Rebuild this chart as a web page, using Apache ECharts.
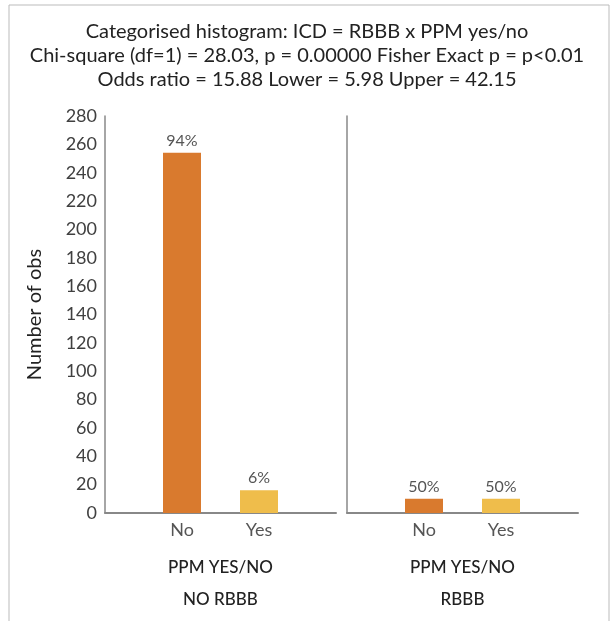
<!DOCTYPE html>
<html><head><meta charset="utf-8">
<script src="https://cdn.jsdelivr.net/npm/echarts@6/dist/echarts.min.js"></script>
<style>html,body{margin:0;padding:0;background:#fff}#c{width:614px;height:621px}</style>
</head><body><div id="c"></div>
<script>
const titleLines = ['Categorised histogram: ICD = RBBB x PPM yes/no',
  'Chi-square (df=1) = 28.03, p = 0.00000 Fisher Exact p = p<0.01',
  'Odds ratio = 15.88 Lower = 5.98 Upper = 42.15'];
const categories = ['', 'No', 'Yes', ''];
const noRbbb = [null, 254, 16, null];
const rbbb = [null, 10, 10, null];
const groupNames = ['PPM YES/NO\nNO RBBB', 'PPM YES/NO\nRBBB'];
const yTicks = {min: 0, max: 280, interval: 20};
const colors = ['#D97A2E', '#EFBD4B'];
const yTitle = 'Number of obs';

const FONT = 'Lato';
function pct(arr) {
  const tot = arr.reduce((a, b) => a + (b || 0), 0);
  return p => Math.round(p.value / tot * 100) + '%';
}
function series(arr, idx) {
  return {
    type: 'bar', xAxisIndex: idx, yAxisIndex: idx, barWidth: 38,
    data: arr.map((v, i) => v == null ? null : {value: v, itemStyle: {color: colors[i - 1]}}),
    label: {show: true, position: 'top', distance: 4, formatter: pct(arr),
      color: '#555', fontSize: 16, fontFamily: FONT}
  };
}
function xAx(idx) {
  return {
    type: 'category', gridIndex: idx, data: categories, boundaryGap: false,
    axisLine: {lineStyle: {color: '#888', width: 2}}, axisTick: {show: false},
    axisLabel: {color: '#555', fontSize: 18, fontFamily: FONT, margin: 8, interval: 0},
    name: groupNames[idx], nameLocation: 'middle', nameGap: 39,
    nameTextStyle: {color: '#222', fontSize: 17, fontFamily: FONT, lineHeight: 32, fontWeight: 500}
  };
}
function yAx(idx) {
  return {
    type: 'value', gridIndex: idx, min: yTicks.min, max: yTicks.max, interval: yTicks.interval,
    splitLine: {show: false}, axisTick: {show: false},
    axisLine: {show: true, lineStyle: {color: '#888', width: 1.5}},
    axisLabel: {show: idx === 0, color: '#404040', fontSize: 18, fontFamily: FONT, margin: 8},
    name: idx === 0 ? yTitle : '', nameLocation: 'middle', nameGap: 60,
    nameTextStyle: {color: '#222', fontSize: 20, fontFamily: FONT}
  };
}
const chart = echarts.init(document.getElementById('c'));
chart.setOption({
  animation: false,
  title: {text: titleLines.join('\n'), left: 'center', top: 15,
    textStyle: {color: '#222', fontSize: 20, fontWeight: 'normal', fontFamily: FONT, lineHeight: 24}},
  grid: [{left: 105, top: 116, width: 231, height: 397},
         {left: 347, top: 116, width: 231, height: 397}],
  xAxis: [xAx(0), xAx(1)],
  yAxis: [yAx(0), yAx(1)],
  series: [series(noRbbb, 0), series(rbbb, 1)],
  graphic: [{type: 'rect', shape: {x: 9, y: 5, width: 600, height: 640}, silent: true, z: -1,
    style: {fill: 'none', stroke: '#bbb', lineWidth: 1}}]
});
</script></body></html>
